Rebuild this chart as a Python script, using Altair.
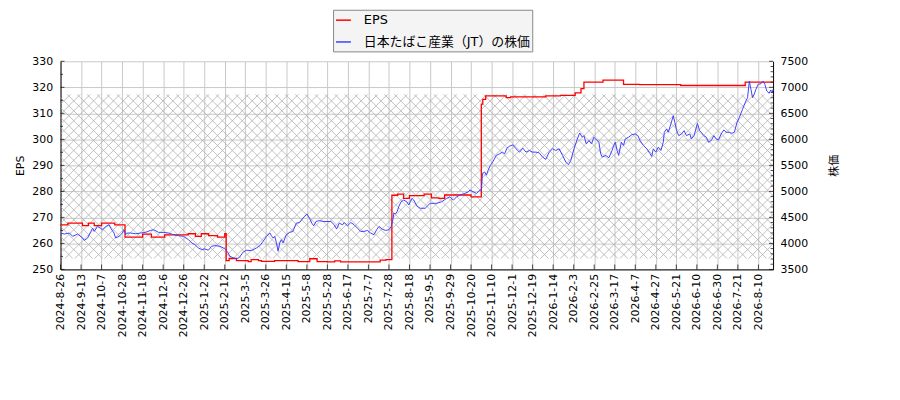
import altair as alt
import pandas as pd
import numpy as np

# ---------------- data ----------------
TICK_LABELS = [
    "2024-8-26", "2024-9-13", "2024-10-7", "2024-10-28", "2024-11-18", "2024-12-6",
    "2024-12-26", "2025-1-22", "2025-2-12", "2025-3-5", "2025-3-26", "2025-4-15",
    "2025-5-8", "2025-5-28", "2025-6-17", "2025-7-7", "2025-7-28", "2025-8-18",
    "2025-9-5", "2025-9-29", "2025-10-20", "2025-11-10", "2025-12-1", "2025-12-19",
    "2026-1-14", "2026-2-3", "2026-2-25", "2026-3-17", "2026-4-7", "2026-4-27",
    "2026-5-21", "2026-6-10", "2026-6-30", "2026-7-21", "2026-8-10",
]
TICK_STEP = 14          # trading days between labelled ticks
X_MAX = 486             # last trading-day index

EPS_IDX = [0, 5, 15, 19, 23, 28, 37, 44, 56, 62, 71, 87, 92, 96, 101, 107, 112, 113,
           115, 120, 128, 130, 135, 137, 146, 162, 170, 175, 182, 187, 191, 218, 222,
           226, 230, 234, 238, 248, 253, 258, 262, 280, 287, 288, 290, 304, 307, 331,
           341, 351, 355, 357, 370, 384, 395, 423, 467, 486]
EPS_VAL = [267.1, 267.8, 266.8, 267.8, 266.8, 267.8, 267.1, 262.4, 263.6, 262.4, 263.3,
           263.7, 262.7, 263.7, 263.0, 262.4, 263.7, 253.4, 254.2, 253.4, 253.0, 253.8,
           253.4, 253.1, 253.4, 253.0, 254.1, 253.0, 252.9, 253.3, 252.9, 253.6, 253.8,
           278.5, 278.9, 277.3, 278.4, 278.9, 277.5, 277.3, 278.6, 277.9, 313.5, 315.4,
           316.7, 316.0, 316.3, 316.7, 316.9, 317.9, 319.5, 322.0, 322.8, 321.1, 321.0,
           320.7, 322.0, 322.0]

PRICE_IDX = [0, 2.7, 6.1, 8.3, 11.7, 15.1, 16.2, 18.5, 20.7, 21.9, 23, 25.2, 27.1, 28.6,
             30.9, 33.2, 34.2, 36.5, 37.6, 39.9, 42.2, 43.3, 44.4, 45.5, 47.8, 51.2, 54.5,
             57.9, 61.3, 63.6, 67, 70.4, 73.7, 77.1, 80.5, 83.9, 87.3, 89.5, 91.7, 94,
             96.3, 98.5, 100.8, 103, 105.3, 108.7, 111, 112.7, 114.3, 115.4, 117.7, 120,
             122, 124.6, 126.7, 130.3, 133.7, 136, 138.2, 140.5, 142.8, 143.8, 145, 146.1,
             147.2, 148.4, 149.5, 150.6, 151.8, 154, 156.3, 158.5, 160.8, 163.1, 165.3,
             166.4, 168, 169.8, 171.4, 172.7, 174.3, 176.6, 178.8, 181.1, 184.4, 186.7,
             188.3, 190.1, 192.4, 193.5, 195.7, 198, 200.3, 202.5, 204.7, 207, 209.3,
             211.5, 213.8, 215.6, 217.2, 219.4, 221.7, 224, 225.5, 226.7, 227.3, 228.4,
             229.6, 230.7, 232.3, 234.1, 236.3, 237.5, 238.6, 239.7, 240.9, 243.1, 245.3,
             248.7, 252.1, 256.6, 260, 263.4, 265.6, 267.9, 270.2, 272.4, 275.8, 278.1,
             279.2, 281.5, 283.7, 286, 287.1, 287.8, 289.3, 290.5, 291.6, 293.2, 295,
             297.2, 299.5, 301.3, 302.9, 304.5, 306.2, 308.5, 310.7, 313, 315.3, 317.5,
             319.8, 322, 324.3, 326.5, 328.8, 331, 333.3, 335.6, 337.8, 340.1, 342.4,
             344.6, 346.4, 348, 350.2, 352.5, 354.1, 355.9, 357, 358.6, 360.4, 362.2,
             363.7, 365, 367.2, 368.4, 369.5, 371.8, 374, 376.2, 377.3, 378.4, 379.6,
             380.7, 382.5, 384, 385.2, 387.4, 389.7, 391.9, 393.8, 395.3, 397.6, 399.9,
             402.1, 403.2, 404.3, 406, 407.7, 409.5, 411.1, 411.8, 413.4, 414.5, 416.3,
             417.9, 419, 420.2, 421.7, 423.5, 425.3, 426.9, 429.2, 430.3, 432.1, 434.4,
             435.9, 437.1, 438.8, 440.5, 442, 443.8, 445.6, 447.2, 448.8, 450.6, 452.4,
             454, 456.2, 457.8, 459.6, 461.4, 463, 465.2, 467.5, 468.6, 469.8, 470.9,
             472, 473.1, 474.3, 475.8, 477.7, 479.2, 480.4, 481.7, 483.3, 484.4, 485.5,
             486]
PRICE_VAL = [4199, 4180, 4199, 4135, 4180, 4104, 4058, 4104, 4230, 4294, 4230, 4325, 4294,
             4262, 4325, 4357, 4294, 4199, 4104, 4135, 4199, 4262, 4167, 4199, 4199, 4185,
             4199, 4211, 4249, 4262, 4211, 4211, 4199, 4167, 4148, 4135, 4071, 4008, 3976,
             3913, 3881, 3894, 3868, 3944, 3957, 3944, 3913, 3881, 3818, 3754, 3722, 3704,
             3730, 3835, 3868, 3862, 3913, 3957, 4040, 4135, 4199, 4148, 4104, 4135, 4020,
             3849, 4008, 4071, 4008, 4167, 4211, 4230, 4389, 4401, 4485, 4516, 4567, 4485,
             4389, 4338, 4421, 4440, 4421, 4421, 4421, 4357, 4275, 4389, 4357, 4401, 4338,
             4401, 4357, 4294, 4230, 4230, 4249, 4199, 4167, 4262, 4325, 4275, 4249, 4262,
             4325, 4452, 4580, 4567, 4611, 4706, 4801, 4834, 4795, 4738, 4801, 4866, 4834,
             4719, 4675, 4675, 4770, 4770, 4801, 4866, 4896, 4830, 4896, 4929, 4961, 4992,
             5024, 4992, 4961, 5024, 5024, 5342, 5373, 5310, 5405, 5500, 5576, 5691, 5722,
             5754, 5722, 5830, 5868, 5894, 5818, 5754, 5830, 5754, 5786, 5754, 5754, 5740,
             5659, 5614, 5754, 5818, 5786, 5818, 5691, 5564, 5513, 5590, 5818, 6008, 6122,
             6040, 6071, 5913, 5976, 5913, 6040, 6008, 5944, 5723, 5659, 5690, 5646, 5786,
             5881, 5944, 5786, 5691, 5944, 5881, 6008, 6040, 6090, 6103, 6071, 5976, 5881,
             5818, 5723, 5671, 5818, 5754, 5849, 5786, 5944, 6135, 6199, 6135, 6294, 6452,
             6325, 6167, 6071, 6103, 6167, 6071, 6103, 6008, 6071, 6306, 6167, 6135, 6071,
             6040, 5944, 5976, 6071, 6008, 5989, 6103, 6180, 6135, 6135, 6116, 6135, 6326,
             6421, 6580, 6739, 6801, 7119, 6961, 6801, 6865, 6961, 7056, 7068, 7119, 7056,
             6929, 6885, 6948, 6905, 6961]

HATCH_LOW_EPS = 254.2     # hatched band, in EPS units
HATCH_HIGH_EPS = 317.3

EPS_DOMAIN = [250, 330]
PRICE_DOMAIN = [3500, 7500]
EPS_MAJOR = list(range(250, 331, 10))
EPS_MINOR = list(range(255, 330, 10))
PRICE_MAJOR = list(range(3500, 7501, 500))
PRICE_MINOR = [v for v in range(3600, 7500, 100) if v % 500 != 0]

S_EPS = "EPS"
S_PRICE = "日本たばこ産業（JT）の株価"

# ---------------- layout ----------------
W, H = 719, 210
FONT = "DejaVu Sans"
JFONT = "DejaVu Sans, Noto Sans CJK JP"
GRID = "#c8c8c8"

eps_df = pd.DataFrame({"i": EPS_IDX, "v": EPS_VAL, "s": S_EPS})
price_df = pd.DataFrame({"i": PRICE_IDX, "v": PRICE_VAL, "s": S_PRICE})

# cross hatch (decoration): 45-degree diagonals spaced ~10px, clipped at the plot edges
px_idx = W / X_MAX
px_eps = H / (EPS_DOMAIN[1] - EPS_DOMAIN[0])
run = (HATCH_HIGH_EPS - HATCH_LOW_EPS) * px_eps / px_idx
step = 10 / px_idx
rows = []
for s0 in np.arange(-run - step, X_MAX + run + step, step):
    rows.append({"x": s0, "x2": s0 + run, "y": HATCH_LOW_EPS, "y2": HATCH_HIGH_EPS})
    rows.append({"x": s0 + 0.8 * step, "x2": s0 + 0.8 * step - run,
                 "y": HATCH_LOW_EPS, "y2": HATCH_HIGH_EPS})
hatch_df = pd.DataFrame(rows)

tick_idx = [k * TICK_STEP for k in range(len(TICK_LABELS))]
label_expr = "[" + ",".join("'%s'" % t for t in TICK_LABELS) + "][round(datum.value / %d)]" % TICK_STEP

common = dict(labelFont=FONT, labelFontSize=11, labelColor="black",
              titleFontSize=11, titleFontWeight="normal", titleColor="black",
              domainColor="black", ticks=False)

x_scale = alt.Scale(domain=[0, X_MAX], nice=False, zero=False)
x_axis = alt.Axis(values=tick_idx, labelExpr=label_expr, labelAngle=270, title="",
                  grid=True, gridColor=GRID, labelPadding=4,
                  labelOverlap=False, labelFlush=False, **common)

eps_scale = alt.Scale(domain=EPS_DOMAIN, nice=False, zero=False)
eps_axis = alt.Axis(values=EPS_MAJOR, title="EPS", orient="left", grid=True, gridColor=GRID,
                    labelPadding=8, titlePadding=6, titleFont=FONT, format="d", **common)

price_scale = alt.Scale(domain=PRICE_DOMAIN, nice=False, zero=False)
price_axis = alt.Axis(values=PRICE_MAJOR, title="株価", orient="right", grid=False,
                      labelPadding=7, titlePadding=32, titleAngle=270,
                      titleFont="Noto Sans CJK JP", format="d", **common)

color_scale = alt.Scale(domain=[S_EPS, S_PRICE], range=["#ff0000", "#3f3fff"])
legend = alt.Legend(title=None, orient="none", legendX=275, legendY=-52,
                    fillColor="#f4f4f4", strokeColor="#888888", padding=2,
                    symbolType="stroke", symbolSize=225, symbolStrokeWidth=1.5,
                    labelFont=JFONT, labelFontSize=13, labelLimit=400, labelOffset=12,
                    rowPadding=6, labelColor="black")

hatch = alt.Chart(hatch_df).mark_rule(clip=True, color="#ababab", strokeWidth=0.75).encode(
    x=alt.X("x:Q", scale=x_scale, axis=x_axis), x2="x2:Q",
    y=alt.Y("y:Q", scale=eps_scale, axis=eps_axis), y2="y2:Q")

red = alt.Chart(eps_df).mark_line(interpolate="step-after", strokeWidth=1.3).encode(
    x=alt.X("i:Q", scale=x_scale, axis=x_axis),
    y=alt.Y("v:Q", scale=eps_scale, axis=eps_axis),
    color=alt.Color("s:N", scale=color_scale, legend=legend))

bottom_ticks = alt.Chart(pd.DataFrame({"t": tick_idx})).mark_tick(
    orient="vertical", size=5, thickness=1, color="black").encode(
    x=alt.X("t:Q", scale=x_scale, axis=x_axis), y=alt.value(H - 2.5))

eps_major = alt.Chart(pd.DataFrame({"t": EPS_MAJOR})).mark_tick(
    orient="horizontal", size=4, thickness=1, color="black").encode(
    y=alt.Y("t:Q", scale=eps_scale, axis=eps_axis), x=alt.value(2))
eps_minor = alt.Chart(pd.DataFrame({"t": EPS_MINOR})).mark_tick(
    orient="horizontal", size=2.5, thickness=1, color="black").encode(
    y=alt.Y("t:Q", scale=eps_scale, axis=eps_axis), x=alt.value(1.25))

blue = alt.Chart(price_df).mark_line(strokeWidth=1).encode(
    x=alt.X("i:Q", scale=x_scale, axis=x_axis),
    y=alt.Y("v:Q", scale=price_scale, axis=price_axis),
    color=alt.Color("s:N", scale=color_scale, legend=legend))

pr_major = alt.Chart(pd.DataFrame({"t": PRICE_MAJOR})).mark_tick(
    orient="horizontal", size=4, thickness=1, color="black").encode(
    y=alt.Y("t:Q", scale=price_scale, axis=price_axis), x=alt.value(W - 2))
pr_minor = alt.Chart(pd.DataFrame({"t": PRICE_MINOR})).mark_tick(
    orient="horizontal", size=2.5, thickness=1, color="black").encode(
    y=alt.Y("t:Q", scale=price_scale, axis=price_axis), x=alt.value(W - 1.25))

left = alt.layer(hatch, red, bottom_ticks, eps_major, eps_minor)
right = alt.layer(blue, pr_major, pr_minor)

chart = alt.layer(left, right).resolve_scale(y="independent").properties(
    width=W, height=H,
    background="white",
    autosize=alt.AutoSizeParams(type="none"),
    padding={"left": 53, "top": 52, "right": 120, "bottom": 130},
).configure_view(strokeWidth=0)

chart.save("out.html", embed_options={"renderer": "svg", "actions": False})
